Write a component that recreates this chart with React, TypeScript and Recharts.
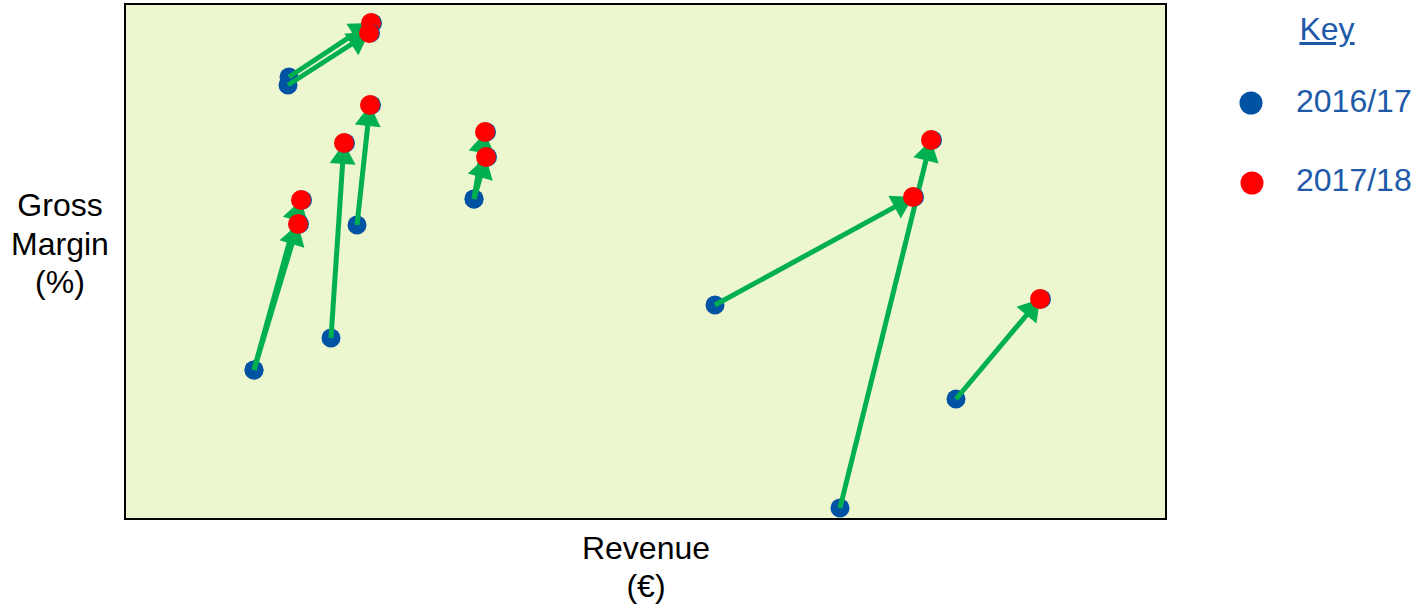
import React from "react";
import { ScatterChart, Scatter, XAxis, YAxis, CartesianGrid, ReferenceArea } from "recharts";

// Revenue / gross margin in arbitrary chart units (axes carry no ticks)
const revenue1617 = [164, 163, 129, 129, 206, 232, 349, 349, 590, 715, 831];
const margin1617 = [442, 434, 149, 149, 181, 294, 320, 320, 214, 11, 120];
const revenue1718 = [246, 244, 176, 173, 219, 245, 360, 361, 788, 806, 915];
const margin1718 = [496, 486, 319, 295, 376, 414, 387, 362, 322, 379, 220];
const seriesLabels = ["2016/17", "2017/18"];
const xDomain = [0, 1041];
const yDomain = [0, 515];

const BLUE = "#0052A3";
const RED = "#FF0000";
const GREEN = "#00B050";
const TEXT_BLUE = "#1E5AA8";
const BG = "#EDF7CF";

const data1617 = revenue1617.map((x, i) => ({ x, y: margin1617[i] }));
const data1718 = revenue1718.map((x, i) => ({ x, y: margin1718[i] }));
const pairs = data1617.map((d, i) => [d, data1718[i]]);

const BlueDot = (p: any) => <circle cx={p.cx} cy={p.cy} r={9.5} fill={BLUE} />;
const RedDot = (p: any) => (
  <g>
    <circle cx={p.cx + 1.5} cy={p.cy} r={9.5} fill={BLUE} />
    <circle cx={p.cx} cy={p.cy} r={10} fill={RED} />
  </g>
);
const NoDot = () => <g />;

const ArrowLine = (props: any) => {
  const pts = props.points;
  if (!pts || pts.length < 2) return null;
  const a = pts[0];
  const b = pts[1];
  const dx = b.x - a.x;
  const dy = b.y - a.y;
  const len = Math.sqrt(dx * dx + dy * dy) || 1;
  const ux = dx / len;
  const uy = dy / len;
  const tipX = b.x;
  const tipY = b.y;
  const headLen = 21;
  const halfW = 13;
  const baseX = tipX - ux * headLen;
  const baseY = tipY - uy * headLen;
  const px = -uy;
  const py = ux;
  return (
    <g>
      <line x1={a.x} y1={a.y} x2={baseX + ux * 2} y2={baseY + uy * 2} stroke={GREEN} strokeWidth={5} />
      <polygon
        points={`${tipX},${tipY} ${baseX + px * halfW},${baseY + py * halfW} ${baseX - px * halfW},${baseY - py * halfW}`}
        fill={GREEN}
      />
    </g>
  );
};

const font = "'Liberation Sans', Arial, sans-serif";

export default function App() {
  return (
    <div style={{ position: "absolute", left: 0, top: 0, width: 1424, height: 605, fontFamily: font }}>
      <ScatterChart width={1424} height={605} margin={{ top: 4, right: 258, bottom: 86, left: 125 }}>
        <CartesianGrid fill={BG} horizontal={false} vertical={false} stroke="none" />
        <XAxis type="number" dataKey="x" domain={xDomain} hide allowDataOverflow />
        <YAxis type="number" dataKey="y" domain={yDomain} hide allowDataOverflow />
        <Scatter name={seriesLabels[0]} data={data1617} shape={BlueDot} isAnimationActive={false} />
        {pairs.map((pr, i) => (
          <Scatter
            key={"arrow" + i}
            data={pr}
            shape={NoDot}
            line={ArrowLine}
            lineType="joint"
            isAnimationActive={false}
          />
        ))}
        <Scatter name={seriesLabels[1]} data={data1718} shape={RedDot} isAnimationActive={false} />
        <ReferenceArea
          x1={xDomain[0]}
          x2={xDomain[1]}
          y1={yDomain[0]}
          y2={yDomain[1]}
          fill="none"
          fillOpacity={0}
          stroke="#000"
          strokeWidth={2}
          ifOverflow="visible"
        />
      </ScatterChart>

      <div style={{ position: "absolute", left: 0, top: 186, width: 120, textAlign: "center", fontSize: 32, lineHeight: "38.5px", color: "#000" }}>
        Gross
        <br />
        Margin
        <br />
        (%)
      </div>
      <div style={{ position: "absolute", left: 546, top: 529, width: 200, textAlign: "center", fontSize: 32, lineHeight: "38px", color: "#000" }}>
        Revenue
        <br />
        (€)
      </div>

      <div style={{ position: "absolute", left: 1290, top: 10, width: 74, textAlign: "center", fontSize: 32, lineHeight: "38px", color: TEXT_BLUE, textDecoration: "underline" }}>
        Key
      </div>
      <svg style={{ position: "absolute", left: 1230, top: 80 }} width={44} height={130}>
        <circle cx={21} cy={23} r={11.5} fill={BLUE} />
        <circle cx={22} cy={103} r={11.5} fill={RED} />
      </svg>
      <div style={{ position: "absolute", left: 1296, top: 82, fontSize: 32, lineHeight: "38px", color: TEXT_BLUE }}>
        {seriesLabels[0]}
      </div>
      <div style={{ position: "absolute", left: 1296, top: 161, fontSize: 32, lineHeight: "38px", color: TEXT_BLUE }}>
        {seriesLabels[1]}
      </div>
    </div>
  );
}
